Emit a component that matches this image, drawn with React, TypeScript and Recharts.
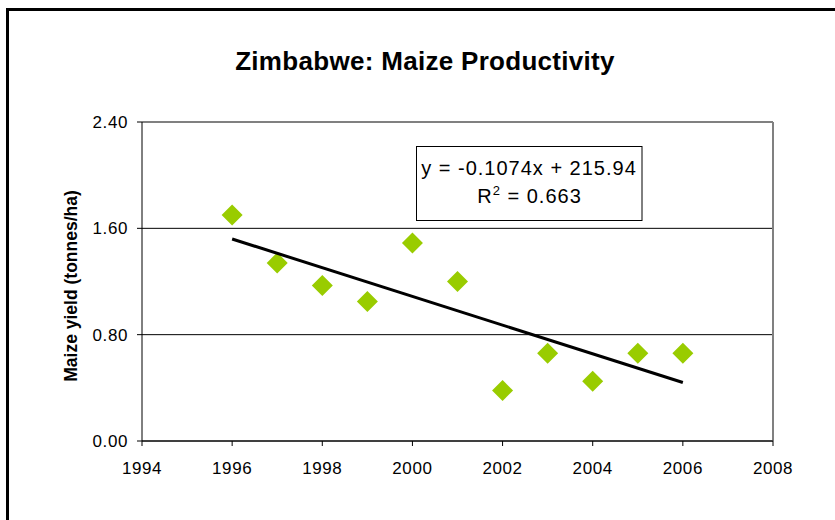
import { ScatterChart, Scatter, XAxis, YAxis, CartesianGrid, ReferenceLine } from 'recharts';

const years = [1996, 1997, 1998, 1999, 2000, 2001, 2002, 2003, 2004, 2005, 2006];
const maizeYield = [1.7, 1.34, 1.17, 1.05, 1.49, 1.2, 0.38, 0.66, 0.45, 0.66, 0.66];

// linear trendline endpoints, as drawn in the source
const trendYears = [1996, 2006];
const trendYield = [1.52, 0.44];

const xTicks = [1994, 1996, 1998, 2000, 2002, 2004, 2006, 2008];
const yTicks = [0, 0.8, 1.6, 2.4];

const chartTitle = 'Zimbabwe: Maize Productivity';
const yLabel = 'Maize yield (tonnes/ha)';
const equationText = 'y = -0.1074x + 215.94';
const rSquaredText = '0.663';

const FONT = '"Liberation Sans", Arial, sans-serif';
const GREEN = '#99CC00';

const points = years.map((year, i) => ({ year, value: maizeYield[i] }));
const trend = trendYears.map((year, i) => ({ year, value: trendYield[i] }));

function Diamond(props: any) {
  const { cx, cy } = props;
  if (cx == null || cy == null) return null;
  const r = 10.5;
  return (
    <polygon
      points={`${cx},${cy - r} ${cx + r},${cy} ${cx},${cy + r} ${cx - r},${cy}`}
      fill={GREEN}
    />
  );
}

function XTick(props: any) {
  const { x, y, payload } = props;
  return (
    <text x={x} y={y + 26} textAnchor="middle" fontFamily={FONT} fontSize={17} fill="#000" style={{ letterSpacing: '0.6px' }}>
      {payload.value}
    </text>
  );
}

function YTick(props: any) {
  const { x, y, payload } = props;
  return (
    <text x={x - 7} y={y + 6} textAnchor="end" fontFamily={FONT} fontSize={17} fill="#000" style={{ letterSpacing: '0.6px' }}>
      {Number(payload.value).toFixed(2)}
    </text>
  );
}

export default function App() {
  return (
    <div style={{ position: 'absolute', left: 0, top: 0, width: 835, height: 520, overflow: 'hidden', background: '#fff' }}>
      <div
        style={{
          position: 'absolute',
          left: 6,
          top: 8,
          width: 900,
          height: 600,
          border: '3px solid #000',
          boxSizing: 'border-box',
        }}
      />
      <div style={{ position: 'absolute', left: 0, top: 0 }}>
        <ScatterChart width={835} height={520} margin={{ top: 122, right: 62, bottom: 49, left: 82 }}>
          <CartesianGrid vertical={false} stroke="#000" strokeWidth={1} />
          <XAxis
            type="number"
            dataKey="year"
            domain={[1994, 2008]}
            ticks={xTicks}
            allowDataOverflow
            height={30}
            tickSize={5}
            stroke="#000"
            tick={<XTick />}
          />
          <YAxis
            type="number"
            dataKey="value"
            domain={[0, 2.4]}
            ticks={yTicks}
            allowDataOverflow
            width={60}
            tickSize={5}
            stroke="#000"
            tick={<YTick />}
          />
          <ReferenceLine y={2.4} stroke="#808080" strokeWidth={2} />
          <ReferenceLine x={2008} stroke="#808080" strokeWidth={2} />
          <Scatter data={points} shape={<Diamond />} isAnimationActive={false} />
          <Scatter
            data={trend}
            line={{ stroke: '#000', strokeWidth: 3 }}
            shape={() => <g />}
            isAnimationActive={false}
          />
        </ScatterChart>
      </div>
      <svg width={835} height={520} style={{ position: 'absolute', left: 0, top: 0, pointerEvents: 'none' }}>
        <text x={425} y={69.5} textAnchor="middle" fontFamily={FONT} fontSize={26} fontWeight="bold" fill="#000" style={{ letterSpacing: '0.3px' }}>
          {chartTitle}
        </text>
        <text
          transform="translate(77, 286) rotate(-90)"
          textAnchor="middle"
          fontFamily={FONT}
          fontSize={17.5}
          fontWeight="bold"
          fill="#000"
        >
          {yLabel}
        </text>
        <rect x={416.5} y={146.5} width={225.5} height={74} fill="#fff" stroke="#000" strokeWidth={1} />
        <text x={529} y={175} textAnchor="middle" fontFamily={FONT} fontSize={20} fill="#000" style={{ letterSpacing: '1px' }}>
          {equationText}
        </text>
        <text x={529.5} y={203.3} textAnchor="middle" fontFamily={FONT} fontSize={20} fill="#000" style={{ letterSpacing: '1px' }}>
          R<tspan fontSize={13} dy={-8}>2</tspan>
          <tspan dy={8}> = {rSquaredText}</tspan>
        </text>
      </svg>
    </div>
  );
}
